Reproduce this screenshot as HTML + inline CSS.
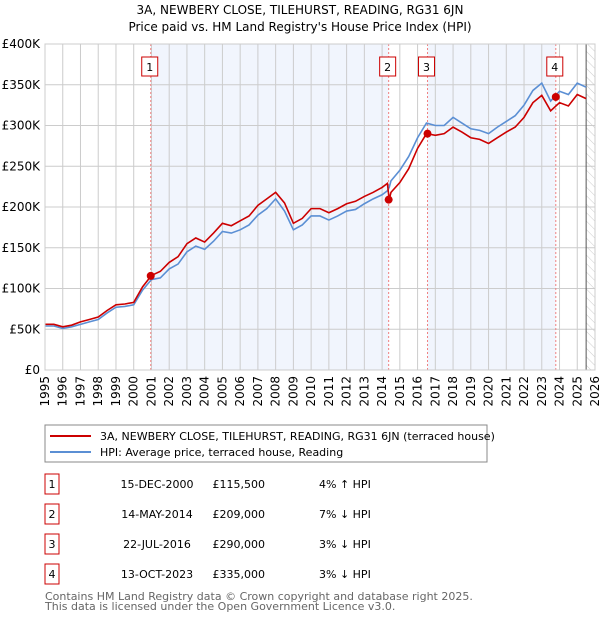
<!DOCTYPE html>
<html><head><meta charset="utf-8"><style>
body{margin:0;background:#fff;font-family:"DejaVu Sans","Liberation Sans",sans-serif;}
svg text{font-family:"DejaVu Sans","Liberation Sans",sans-serif;}
</style></head><body>
<svg id="c" width="600" height="620" viewBox="0 0 600 620" xmlns="http://www.w3.org/2000/svg">
<defs><pattern id="hatch" width="6" height="6" patternUnits="userSpaceOnUse" patternTransform="rotate(-45)"><line x1="0" y1="0" x2="0" y2="6" stroke="#ccc" stroke-width="1"/></pattern></defs>
<text x="300" y="14" text-anchor="middle" font-size="12">3A, NEWBERY CLOSE, TILEHURST, READING, RG31 6JN</text>
<text x="300" y="31" text-anchor="middle" font-size="12">Price paid vs. HM Land Registry's House Price Index (HPI)</text>
<g id="plot"></g>
<rect x="45" y="425" width="442" height="37" fill="#fff" stroke="#888"/>
<line x1="50" y1="436" x2="91" y2="436" stroke="#cc0000" stroke-width="2"/>
<text x="100" y="440" font-size="11">3A, NEWBERY CLOSE, TILEHURST, READING, RG31 6JN (terraced house)</text>
<line x1="50" y1="452" x2="91" y2="452" stroke="#5b8fd4" stroke-width="2"/>
<text x="100" y="456" font-size="11">HPI: Average price, terraced house, Reading</text>
<g id="table" font-size="11"></g>
<text x="45" y="600" font-size="11" fill="#666">Contains HM Land Registry data © Crown copyright and database right 2025.</text>
<text x="45" y="610" font-size="11" fill="#666">This data is licensed under the Open Government Licence v3.0.</text>
</svg>
<script>
const years=[1995,1995.5,1996,1996.5,1997,1997.5,1998,1998.5,1999,1999.5,2000,2000.5,2001,2001.5,2002,2002.5,2003,2003.5,2004,2004.5,2005,2005.5,2006,2006.5,2007,2007.5,2008,2008.5,2009,2009.5,2010,2010.5,2011,2011.5,2012,2012.5,2013,2013.5,2014,2014.3,2014.4,2014.5,2015,2015.5,2016,2016.5,2017,2017.5,2018,2018.5,2019,2019.5,2020,2020.5,2021,2021.5,2022,2022.5,2023,2023.5,2024,2024.5,2025,2025.5];
const hpi=[54,54,51,53,56,59,62,70,77,78,80,98,111,113,124,130,145,152,148,158,170,168,172,178,190,198,210,195,172,178,189,189,184,189,195,197,204,210,215,220,224,232,245,262,285,303,300,300,310,303,296,294,290,298,305,312,325,343,352,330,342,338,352,347];
const price=[56,56,53,55,59,62,65,73,80,81,83,102,116,121,132,139,155,162,157,168,180,177,183,189,202,210,218,205,180,186,198,198,193,198,204,207,213,218,224,229,209,218,230,247,272,290,288,290,298,292,285,283,278,285,292,298,310,328,337,318,328,324,338,333];
const saleYears=[2000.96,2014.37,2016.56,2023.79];
const saleValues=[115.5,209,290,335];
const saleLabels=["1","2","3","4"];
const saleDates=["15-DEC-2000","14-MAY-2014","22-JUL-2016","13-OCT-2023"];
const salePrices=["£115,500","£209,000","£290,000","£335,000"];
const saleDiffs=["4% ↑ HPI","7% ↓ HPI","3% ↓ HPI","3% ↓ HPI"];
const yTicks=[0,50,100,150,200,250,300,350,400];
const yTickLabels=["£0","£50K","£100K","£150K","£200K","£250K","£300K","£350K","£400K"];
const xTicks=[1995,1996,1997,1998,1999,2000,2001,2002,2003,2004,2005,2006,2007,2008,2009,2010,2011,2012,2013,2014,2015,2016,2017,2018,2019,2020,2021,2022,2023,2024,2025,2026];

const X0=45,X1=595,Y0=370,Y1=44;
const xs=y=>X0+(y-1995)/31*(X1-X0);
const ys=v=>Y0-v/400*(Y0-Y1);
const NS="http://www.w3.org/2000/svg";
const plot=document.getElementById('plot');
function mk(tag,attrs,parent){const e=document.createElementNS(NS,tag);for(const k in attrs)e.setAttribute(k,attrs[k]);(parent||plot).appendChild(e);return e;}
let bg=mk('rect',{x:X0,y:Y1,width:X1-X0,height:Y0-Y1,fill:'#fff'});


const shades=[[0,1],[2,3]];
shades.forEach((s,i)=>{let r=mk('rect',{x:xs(saleYears[s[0]]),y:Y1,width:xs(saleYears[s[1]])-xs(saleYears[s[0]]),height:Y0-Y1,fill:'#f1f5fd'});

});
let h=mk('rect',{x:xs(2025.5),y:Y1,width:X1-xs(2025.5),height:Y0-Y1,fill:'url(#hatch)'});


yTicks.forEach((v,i)=>{let l=mk('line',{x1:X0,x2:X1,y1:ys(v),y2:ys(v),stroke:'#ccc'});


let t=mk('text',{x:X0-5,y:ys(v)+4,'text-anchor':'end','font-size':12});t.textContent=yTickLabels[i];

});
xTicks.forEach(y=>{let l=mk('line',{x1:xs(y),x2:xs(y),y1:Y1,y2:Y0,stroke:'#ccc'});


let t=mk('text',{x:0,y:0,'text-anchor':'end','font-size':12,transform:`translate(${xs(y)+4},${Y0+6}) rotate(-90)`});t.textContent=y;

});
let nl=mk('line',{x1:xs(2025.5),x2:xs(2025.5),y1:Y1,y2:Y0,stroke:'#555'});


saleYears.forEach((y,i)=>{let l=mk('line',{x1:xs(y),x2:xs(y),y1:Y1,y2:Y0,stroke:'#f08080','stroke-dasharray':'2,2'});

});
const line=(arr,c,n)=>{let p=mk('polyline',{points:years.map((y,i)=>xs(y)+','+ys(arr[i])).join(' '),fill:'none',stroke:c,'stroke-width':1.6});

};
line(hpi,'#5b8fd4','hpi-line');
line(price,'#cc0000','price-line');
saleYears.forEach((y,i)=>{let c=mk('circle',{cx:xs(y),cy:ys(saleValues[i]),r:4,fill:'#cc0000'});


let bx=xs(y)-9;
let r=mk('rect',{x:bx,y:57,width:16,height:19,fill:'#fff',stroke:'#cc0000'});


let t=mk('text',{x:bx+8,y:71,'text-anchor':'middle','font-size':11});t.textContent=saleLabels[i];

});
let fr=mk('rect',{x:X0,y:Y1,width:X1-X0,height:Y0-Y1,fill:'none',stroke:'#ccc'});


const tb=document.getElementById('table');
saleLabels.forEach((s,i)=>{const y=484+i*30;
let r=mk('rect',{x:45,y:y-10,width:14,height:20,fill:'#fff',stroke:'#cc0000'},tb);


const cells=[[52,s,'middle'],[157,saleDates[i],'middle'],[265,salePrices[i],'end'],[319,saleDiffs[i],'start']];
cells.forEach(c=>{let t=mk('text',{x:c[0],y:y+4,'text-anchor':c[2]},tb);t.textContent=c[1];

});});
</script>
</body></html>
